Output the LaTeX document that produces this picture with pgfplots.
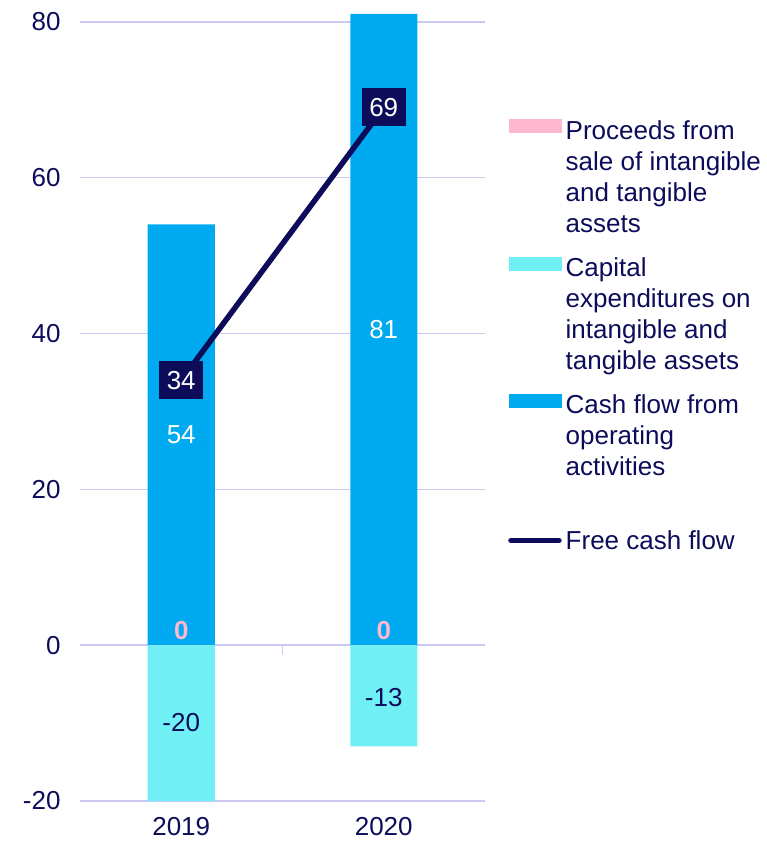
\documentclass[border=0pt]{standalone}
\usepackage{pgfplots}
\pgfplotsset{compat=1.18}
\usepackage{fontspec}
\setmainfont{Liberation Sans}
\definecolor{navy}{HTML}{0C0C5A}
\definecolor{cfblue}{HTML}{00AAF0}
\definecolor{capex}{HTML}{70F0F5}
\definecolor{pinkp}{HTML}{FFB6CF}
\definecolor{gridc}{HTML}{C8C8F2}
\newcommand\f{\fontsize{26pt}{31pt}\selectfont}
\begin{document}
\begin{tikzpicture}
\begin{axis}[
  scale only axis, width=405pt, height=787pt,
  xmin=-0.5, xmax=1.5, ymin=-20, ymax=81,
  xtick={0,1}, xticklabels={2019,2020},
  ytick={-20,0,...,80},
  ymajorgrids, grid style={gridc, line width=1.6pt},
  axis line style={draw=none},
  tick style={draw=none},
  /pgf/number format/assume math mode=true,
  ticklabel style={font=\f, text=navy},
  yticklabel style={xshift=-16pt},
  xticklabel style={yshift=-13pt},
  clip=false,
  legend style={at={(axis description cs:1,0.871)}, anchor=north west, xshift=23pt,
    draw=none, fill=none, inner sep=0pt, row sep=17pt, font=\f, text=navy,
    column sep=2pt},
  legend cell align=left,
]
\coordinate (sw) at (rel axis cs:0,0);
\coordinate (ne) at (rel axis cs:1,1);

\addlegendimage{legend image code/.code={\fill[pinkp] (0pt,43.3pt) rectangle (52pt,56.3pt);}}
\addlegendentry{\begin{tabular}[b]{@{}l@{}}Proceeds from\\sale of intangible\\and tangible\\assets\end{tabular}}
\addlegendimage{legend image code/.code={\fill[capex] (0pt,43.3pt) rectangle (52pt,56.3pt);}}
\addlegendentry{\begin{tabular}[b]{@{}l@{}}Capital\\expenditures on\\intangible and\\tangible assets\end{tabular}}
\addlegendimage{legend image code/.code={\fill[cfblue] (0pt,43.8pt) rectangle (52pt,56.8pt);}}
\addlegendentry{\begin{tabular}[b]{@{}l@{}}Cash flow from\\operating\\activities\\[1pt] \mbox{}\end{tabular}}
\addlegendimage{legend image code/.code={\draw[navy, line width=5.5pt, line cap=round] (2pt,0pt) -- (50pt,0pt);}}
\addlegendentry{Free cash flow}

% bars
\addplot[ybar, bar width=67pt, bar shift=0pt, fill=cfblue, draw=none, forget plot] coordinates {(0,54) (1,81)};
\addplot[ybar, bar width=67pt, bar shift=0pt, fill=capex, draw=none, forget plot] coordinates {(0,-20) (1,-13)};
\addplot[ybar, bar width=67pt, bar shift=0pt, fill=pinkp, draw=none, forget plot] coordinates {(0,0) (1,0)};
% small tick on zero line
\addplot[gridc, line width=1.6pt, forget plot] coordinates {(0.5,0) (0.5,-1.2)};

% value labels
\addplot[draw=none, mark=none, forget plot, nodes near coords, point meta=explicit symbolic,
  every node near coord/.append style={anchor=center, text=white, font=\f}]
  coordinates {(0,27)[54] (1,40.5)[81]};
\addplot[draw=none, mark=none, forget plot, nodes near coords, point meta=explicit symbolic,
  every node near coord/.append style={anchor=center, text=navy, font=\f}]
  coordinates {(0,-9.9)[-20] (1,-6.7)[-13]};
\addplot[draw=none, mark=none, forget plot, nodes near coords, point meta=explicit symbolic,
  every node near coord/.append style={anchor=center, text=pinkp, font=\f\bfseries}]
  coordinates {(0,1.9)[0] (1,1.9)[0]};

% free cash flow line
\addplot[navy, line width=5.5pt, mark=none, forget plot, nodes near coords, point meta=explicit symbolic,
  every node near coord/.append style={anchor=center, fill=navy, text=white, font=\f,
    minimum width=44pt, minimum height=38pt, inner sep=0pt}]
  coordinates {(0,34)[34] (1,69)[69]};
\end{axis}
\pgfresetboundingbox
\path ([xshift=-80pt,yshift=-44pt]sw) rectangle ([xshift=281pt,yshift=14pt]ne);
\end{tikzpicture}
\end{document}
